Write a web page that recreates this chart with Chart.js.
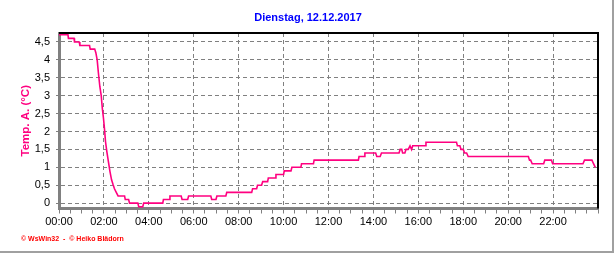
<!DOCTYPE html>
<html>
<head>
<meta charset="utf-8">
<script src="https://cdn.jsdelivr.net/npm/chart.js@4.4.1/dist/chart.umd.min.js"></script>
<style>
    body { margin: 0; background: #fff; }
    #wrap { width: 616px; height: 253px; }
</style>
</head>
<body>
<div id="wrap"><canvas id="chart" width="616" height="253"></canvas></div>
<script>
// Outdoor temperature (hour of day -> °C)
const sampleHours = [
    0.0, 0.4, 0.42, 0.67, 0.69, 0.9, 0.93, 1.36, 1.39, 1.59,
    1.64, 1.70, 1.75, 1.82, 1.88, 1.93, 1.98, 2.03, 2.07, 2.13,
    2.20, 2.27, 2.34, 2.41, 2.47, 2.55, 2.63, 2.92, 2.95, 3.10,
    3.14, 3.51, 3.55, 3.73, 3.77, 4.62, 4.65, 4.90, 4.94, 5.44,
    5.48, 5.73, 5.77, 6.76, 6.80, 6.99, 7.03, 7.43, 7.47, 8.58,
    8.62, 8.80, 8.84, 9.02, 9.07, 9.29, 9.32, 9.63, 9.66, 10.0,
    10.03, 10.33, 10.37, 10.77, 10.8, 11.33, 11.36, 13.33, 13.36, 13.59,
    13.62, 14.1, 14.15, 14.3, 14.36, 15.14, 15.19, 15.26, 15.30, 15.40,
    15.45, 15.55, 15.63, 15.67, 15.70, 15.75, 16.3, 16.34, 17.7, 17.74,
    17.85, 17.9, 18.0, 18.06, 18.15, 18.22, 20.9, 20.95, 21.0, 21.07,
    21.58, 21.63, 21.93, 21.98, 23.33, 23.4, 23.73, 23.8, 23.88
];
const tempValues = [
    4.7, 4.7, 4.6, 4.6, 4.5, 4.5, 4.4, 4.4, 4.3, 4.3,
    4.2, 4.0, 3.66, 3.25, 3.0, 2.64, 2.37, 2.04, 1.72, 1.44,
    1.16, 0.88, 0.65, 0.51, 0.4, 0.3, 0.2, 0.2, 0.1, 0.1,
    0.0, 0.0, -0.1, -0.1, 0.0, 0.0, 0.1, 0.1, 0.2, 0.2,
    0.1, 0.1, 0.2, 0.2, 0.1, 0.1, 0.2, 0.2, 0.3, 0.3,
    0.4, 0.4, 0.5, 0.5, 0.6, 0.6, 0.7, 0.7, 0.8, 0.8,
    0.9, 0.9, 1.0, 1.0, 1.1, 1.1, 1.2, 1.2, 1.3, 1.3,
    1.4, 1.4, 1.3, 1.3, 1.4, 1.4, 1.5, 1.5, 1.4, 1.4,
    1.5, 1.5, 1.6, 1.6, 1.5, 1.6, 1.6, 1.7, 1.7, 1.6,
    1.6, 1.5, 1.5, 1.4, 1.4, 1.3, 1.3, 1.2, 1.2, 1.1,
    1.1, 1.2, 1.2, 1.1, 1.1, 1.2, 1.2, 1.1, 1.0
];

// Axis tick labels
const hourLabels = ['00:00', '02:00', '04:00', '06:00', '08:00', '10:00',
    '12:00', '14:00', '16:00', '18:00', '20:00', '22:00'];
const tempLabels = ['0', '0,5', '1', '1,5', '2', '2,5', '3', '3,5', '4', '4,5'];

const chartTitle = 'Dienstag, 12.12.2017';
const yTitle = 'Temp. A. (°C)';
const credits = '© WsWin32  -  © Heiko Blädorn';

const lineColor = '#ff0080';
const gridColor = '#808080';

// label value -> position on the axis
const hourValues = hourLabels.map(l => parseInt(l, 10));
const tempTickValues = tempLabels.map(l => parseFloat(l.replace(',', '.')));

const points = sampleHours.map((h, i) => ({ x: h, y: tempValues[i] }));

// black top/right plot frame, grey outer frame and credit line
const framePlugin = {
    id: 'frame',
    beforeDatasetsDraw(chart) {
        const { ctx, chartArea: a } = chart;
        ctx.save();
        ctx.strokeStyle = '#000';
        ctx.lineWidth = 2;
        ctx.beginPath();
        ctx.moveTo(a.left, a.top);
        ctx.lineTo(a.right, a.top);
        ctx.lineTo(a.right, a.bottom);
        ctx.stroke();
        ctx.restore();
    },
    afterDraw(chart) {
        const { ctx } = chart;
        ctx.save();
        ctx.strokeStyle = '#a0a0a0';
        ctx.lineWidth = 2;
        ctx.beginPath();
        ctx.moveTo(613, 0);
        ctx.lineTo(613, 252);
        ctx.lineTo(0, 252);
        ctx.stroke();
        ctx.fillStyle = '#ff0000';
        ctx.font = 'bold 7px Arial';
        ctx.textBaseline = 'middle';
        ctx.fillText(credits, 21, 239);
        ctx.restore();
    }
};

new Chart(document.getElementById('chart'), {
    type: 'line',
    data: {
        datasets: [{
            data: points,
            borderColor: lineColor,
            borderWidth: 1.6,
            pointRadius: 0,
            tension: 0,
            fill: false
        }]
    },
    options: {
        responsive: false,
        animation: false,
        events: [],
        layout: { padding: 0 },
        plugins: {
            legend: { display: false },
            tooltip: { enabled: false },
            title: {
                display: true,
                text: chartTitle,
                color: '#0000ff',
                font: { family: 'Arial', size: 11, weight: 'bold' },
                padding: { top: 11, bottom: 8.8 }
            }
        },
        scales: {
            x: {
                type: 'linear',
                min: 0,
                max: 24,
                afterBuildTicks(scale) {
                    const t = [];
                    for (let v = 0; v <= 24; v += 0.5) t.push({ value: v });
                    scale.ticks = t;
                },
                afterFit(scale) { scale.height = 44.5; },
                ticks: {
                    autoSkip: false,
                    maxRotation: 0,
                    padding: 2,
                    color: '#000',
                    font: { family: 'Arial', size: 11 },
                    callback: v => {
                        const i = hourValues.indexOf(v);
                        return i >= 0 ? hourLabels[i] : '';
                    }
                },
                grid: {
                    color: c => (c.tick && hourValues.includes(c.tick.value)) ? gridColor : 'rgba(0,0,0,0)',
                    tickColor: gridColor,
                    tickLength: 5,
                    lineWidth: 1
                },
                border: { color: gridColor, width: 3, dash: [4, 3] }
            },
            y: {
                min: -0.15,
                max: 4.75,
                afterBuildTicks(scale) {
                    const t = [];
                    for (let v = 0; v <= 4.75; v += 0.25) t.push({ value: Math.round(v * 100) / 100 });
                    scale.ticks = t;
                },
                afterFit(scale) { scale.width = 59; },
                ticks: {
                    padding: 6,
                    color: '#000',
                    font: { family: 'Arial', size: 11 },
                    callback: v => {
                        const i = tempTickValues.indexOf(v);
                        return i >= 0 ? tempLabels[i] : '';
                    }
                },
                grid: {
                    color: c => (c.tick && tempTickValues.includes(c.tick.value)) ? gridColor : 'rgba(0,0,0,0)',
                    tickColor: gridColor,
                    tickLength: 3,
                    lineWidth: 1
                },
                border: { color: gridColor, width: 3, dash: [4, 3] },
                title: {
                    display: true,
                    text: yTitle,
                    color: lineColor,
                    font: { family: 'Arial', size: 11.5, weight: 'bold' },
                    padding: { top: 19, bottom: 0 }
                }
            },
            // empty right-hand axis, only keeps the plot 18px off the right edge
            yRight: {
                position: 'right',
                grid: { display: false },
                border: { display: false },
                ticks: { display: false },
                afterFit(scale) { scale.width = 18; }
            }
        }
    },
    plugins: [framePlugin]
});
</script>
</body>
</html>
